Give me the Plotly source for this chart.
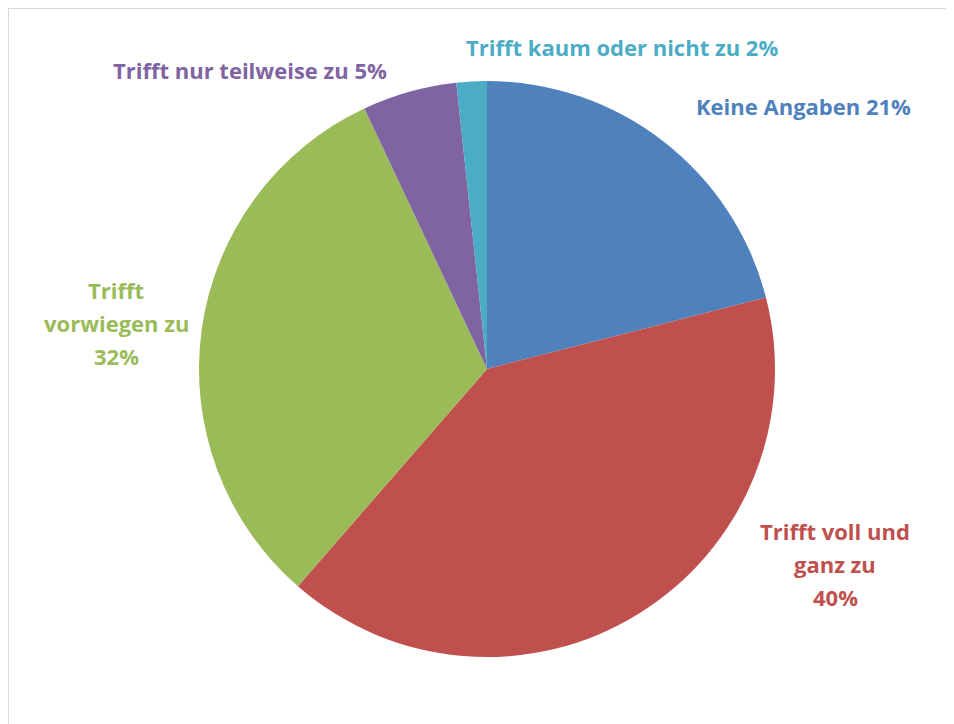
import plotly.graph_objects as go

# slices, clockwise from 12 o'clock
labels = ["Keine Angaben", "Trifft voll und ganz zu", "Trifft vorwiegen zu",
          "Trifft nur teilweise zu", "Trifft kaum oder nicht zu"]
values = [21.0, 40.4, 31.6, 5.3, 1.7]
colors = ["#4F81BD", "#C0504D", "#9BBB59", "#8064A2", "#4BACC6"]

# label text as it is broken in the picture
label_lines = [
    ["Keine Angaben 21%"],
    ["Trifft voll und", "ganz zu", "40%"],
    ["Trifft", "vorwiegen zu", "32%"],
    ["Trifft nur teilweise zu 5%"],
    ["Trifft kaum oder nicht zu 2%"],
]
# label centres in page pixels (x, y of first line)
label_pos = [(803, 106), (835, 531), (116, 290), (250, 70), (622, 47)]

# page has an 8px body margin; figure runs to the window's right/bottom edge
OFF = 8
FW, FH = 954 - OFF, 724 - OFF
LINE = 33


def px(x):
    return (x - OFF) / FW


def py(y):
    return 1 - (y - OFF) / FH


fig = go.Figure()
fig.add_trace(go.Pie(
    labels=labels,
    values=values,
    sort=False,
    direction="clockwise",
    rotation=0,
    marker=dict(colors=colors, line=dict(width=0)),
    textinfo="none",
    hoverinfo="label+percent",
    domain=dict(x=[px(199), px(775)], y=[py(657), py(81)]),
    showlegend=False,
))

for lines, (lx, ly), col in zip(label_lines, label_pos, colors):
    for k, line in enumerate(lines):
        fig.add_annotation(
            x=px(lx), y=py(ly + k * LINE),
            xref="paper", yref="paper",
            text="<b>" + line + "</b>",
            showarrow=False,
            xanchor="center", yanchor="middle",
            font=dict(family="Open Sans", size=22, color=col),
        )

# thin grey frame of the chart area: top and left edges
fig.add_shape(type="line", xref="paper", yref="paper",
              x0=0, y0=1, x1=1, y1=1,
              line=dict(color="#D9D9D9", width=2))
fig.add_shape(type="line", xref="paper", yref="paper",
              x0=0, y0=0, x1=0, y1=1,
              line=dict(color="#D9D9D9", width=2))

fig.update_layout(
    width=FW, height=FH,
    margin=dict(l=0, r=0, t=0, b=0),
    paper_bgcolor="white",
    plot_bgcolor="white",
)

fig.write_html("out.html")
